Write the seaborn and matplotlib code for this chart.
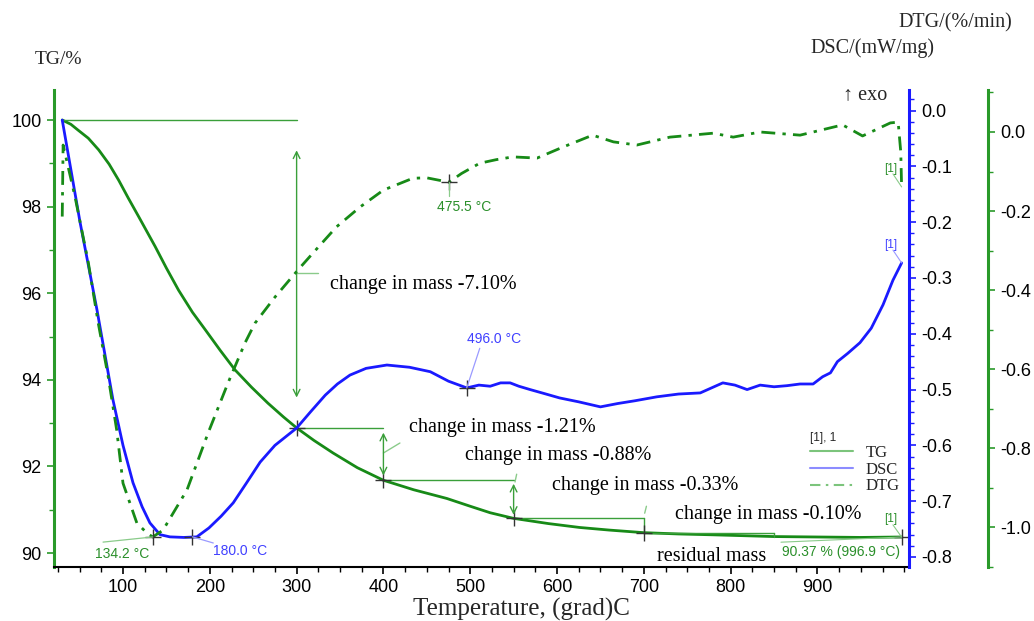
import matplotlib
matplotlib.use("Agg")
import matplotlib.pyplot as plt
from matplotlib.lines import Line2D
from matplotlib.ticker import MultipleLocator, FormatStrFormatter
import pandas as pd
import seaborn as sns

# ---------------- data ----------------
tg_temp = [30, 40, 48, 60, 72, 84, 95, 106, 118, 137, 150, 164, 180, 195, 212, 229, 248, 267, 285,
           300, 320, 342, 370, 400, 435, 473, 500, 523, 550, 590, 626, 660, 700, 740, 780, 850, 900,
           950, 997]
tg_mass = [100.0, 99.9, 99.77, 99.58, 99.31, 98.98, 98.61, 98.2, 97.77, 97.08, 96.58, 96.07, 95.56,
           95.15, 94.68, 94.23, 93.83, 93.46, 93.14, 92.89, 92.6, 92.31, 91.97, 91.68, 91.46, 91.26,
           91.08, 90.93, 90.80, 90.68, 90.59, 90.53, 90.47, 90.44, 90.42, 90.38, 90.37, 90.36, 90.37]

dsc_temp = [30, 50.5, 70, 88.5, 100, 111.5, 122, 131, 142.6, 154, 170, 185, 199, 213, 227, 242, 258,
            275, 300, 316, 333, 347, 361.5, 380, 404, 430, 454, 475, 496, 510, 523, 535, 546, 556,
            569, 585, 603, 625, 650, 670, 690, 715, 740, 765, 778, 791, 805, 819, 834, 850, 865,
            880, 895, 906, 915, 923, 935, 949, 962, 975.6, 987, 997]
dsc_val = [-0.017, -0.20, -0.357, -0.519, -0.60, -0.667, -0.71, -0.739, -0.760, -0.764, -0.765,
           -0.764, -0.748, -0.727, -0.703, -0.668, -0.63, -0.60, -0.569, -0.54, -0.51, -0.49,
           -0.474, -0.462, -0.456, -0.46, -0.468, -0.485, -0.497, -0.492, -0.494, -0.488, -0.488,
           -0.494, -0.50, -0.507, -0.515, -0.522, -0.531, -0.525, -0.52, -0.513, -0.508, -0.506,
           -0.497, -0.488, -0.492, -0.50, -0.492, -0.495, -0.493, -0.49, -0.49, -0.477, -0.47,
           -0.45, -0.435, -0.416, -0.39, -0.348, -0.304, -0.273]

dtg_temp = [30, 31, 44.7, 60, 71.5, 83, 92.7, 100, 116, 127.6, 134.2, 146, 173.7, 198, 221, 240.5,
            252, 275, 301.6, 319, 346, 373, 400, 434, 450, 475.5, 490, 511, 530, 549, 577, 607,
            641, 665, 692, 730, 780, 803, 834, 880, 929, 952, 984, 993, 996, 997]
dtg_val = [-0.214, -0.033, -0.164, -0.33, -0.484, -0.62, -0.754, -0.889, -0.99, -1.015, -1.025,
           -1.008, -0.906, -0.762, -0.635, -0.534, -0.484, -0.418, -0.349, -0.306, -0.24, -0.19,
           -0.147, -0.117, -0.116, -0.127, -0.105, -0.079, -0.07, -0.063, -0.066, -0.038, -0.008,
           -0.025, -0.033, -0.013, -0.003, -0.013, 0.0, -0.008, 0.018, -0.01, 0.023, 0.025, -0.05,
           -0.139]

step_temp = [30, 300, 400, 550, 700, 850]
step_mass = [100.0, 92.89, 91.68, 90.80, 90.47, 90.37]
step_labels = ["change in mass -7.10%", "change in mass -1.21%", "change in mass -0.88%",
               "change in mass -0.33%", "change in mass -0.10%"]

dtg_peak_temp = [134.2, 475.5]
dtg_peak_val = [-1.025, -0.127]
dtg_peak_labels = ["134.2 °C", "475.5 °C"]
dsc_peak_temp = [180.0, 496.0]
dsc_peak_val = [-0.764, -0.497]
dsc_peak_labels = ["180.0 °C", "496.0 °C"]
residual_temp = 996.9
residual_mass = 90.37
residual_label = "90.37 % (996.9 °C)"

x_ticks = [100, 200, 300, 400, 500, 600, 700, 800, 900]
tg_ticks = [90, 92, 94, 96, 98, 100]
dsc_ticks = [-0.8, -0.7, -0.6, -0.5, -0.4, -0.3, -0.2, -0.1, 0.0]
dtg_ticks = [-1.0, -0.8, -0.6, -0.4, -0.2, 0.0]

# ---------------- style ----------------
sns.set_theme(style="white")
plt.rcParams["font.family"] = ["Liberation Sans", "DejaVu Sans"]
plt.rcParams["axes.unicode_minus"] = False
SERIF = ["Liberation Serif", "DejaVu Serif"]

TG_C = "#178a17"
SPINE_G = "#2a9a2a"
BLUE = "#1a1aff"
ANN_G = "#3a9f3a"
TXT_G = "#2a8f2a"
TXT_B = "#4040ff"

fig = plt.figure(figsize=(10.34, 6.21), dpi=100)
ax = fig.add_axes([54 / 1034, 1 - 567 / 621, 855 / 1034, 477 / 621])
ax2 = ax.twinx()
ax3 = ax.twinx()

df_tg = pd.DataFrame({"Temperature": tg_temp, "TG": tg_mass})
df_dsc = pd.DataFrame({"Temperature": dsc_temp, "DSC": dsc_val})
df_dtg = pd.DataFrame({"Temperature": dtg_temp, "DTG": dtg_val})

sns.lineplot(data=df_tg, x="Temperature", y="TG", ax=ax, color=TG_C, linewidth=2.0,
             estimator=None, sort=False)
sns.lineplot(data=df_dsc, x="Temperature", y="DSC", ax=ax2, color=BLUE, linewidth=2.0,
             estimator=None, sort=False)
sns.lineplot(data=df_dtg, x="Temperature", y="DTG", ax=ax3, color=TG_C, linewidth=2.0,
             estimator=None, sort=False)
ax3.lines[0].set_linestyle((0, (5, 2.6, 1.2, 2.6)))

for a in (ax, ax2, ax3):
    a.set_xlabel("")
    a.set_ylabel("")
    for s in a.spines.values():
        s.set_visible(False)
    a.grid(False)

ax.set_xlim(20.5, 1005.5)
ax.set_ylim(89.677, 100.693)
ax2.set_ylim(-0.818, 0.0369)
ax3.set_ylim(-1.101, 0.1063)

ax.spines["left"].set_visible(True)
ax.spines["left"].set_color(SPINE_G)
ax.spines["left"].set_linewidth(2.2)
ax.spines["bottom"].set_visible(True)
ax.spines["bottom"].set_color("black")
ax.spines["bottom"].set_linewidth(1.5)
ax2.spines["right"].set_visible(True)
ax2.spines["right"].set_color(BLUE)
ax2.spines["right"].set_linewidth(2.2)
ax3.spines["right"].set_visible(True)
ax3.spines["right"].set_color(SPINE_G)
ax3.spines["right"].set_linewidth(2.2)
ax3.spines["right"].set_position(("outward", 79 * 0.72))

ax.set_xticks(x_ticks)
ax.xaxis.set_minor_locator(MultipleLocator(25))
ax.set_yticks(tg_ticks)
ax.yaxis.set_minor_locator(MultipleLocator(1))
ax2.set_yticks(dsc_ticks)
ax2.yaxis.set_minor_locator(MultipleLocator(0.02))
ax2.yaxis.set_major_formatter(FormatStrFormatter("%.1f"))
ax3.set_yticks(dtg_ticks)
ax3.yaxis.set_minor_locator(MultipleLocator(0.1))
ax3.yaxis.set_major_formatter(FormatStrFormatter("%.1f"))

ax.tick_params(axis="x", which="both", bottom=True, top=False, direction="out", colors="black",
               labelsize=13, pad=3.5)
ax.tick_params(axis="x", which="major", length=5, width=1.2)
ax.tick_params(axis="x", which="minor", length=3.5, width=1.0)
ax.tick_params(axis="y", which="both", left=True, right=False, direction="out", colors=SPINE_G,
               labelcolor="black", labelsize=13, pad=4)
ax.tick_params(axis="y", which="major", length=5, width=1.2)
ax.tick_params(axis="y", which="minor", length=3.5, width=1.0)
ax2.tick_params(axis="y", which="both", right=True, left=False, direction="out", colors=BLUE,
                labelcolor="black", labelsize=13, pad=4)
ax2.tick_params(axis="y", which="major", length=5, width=1.2)
ax2.tick_params(axis="y", which="minor", length=3.5, width=1.0)
ax3.tick_params(axis="y", which="both", right=True, left=False, direction="out", colors=SPINE_G,
                labelcolor="black", labelsize=13, pad=4)
ax3.tick_params(axis="y", which="major", length=5, width=1.2)
ax3.tick_params(axis="y", which="minor", length=3.5, width=1.0)

# ---------------- mass-change construction ----------------
for i in range(len(step_labels)):
    ax.plot([step_temp[i], step_temp[i + 1]], [step_mass[i], step_mass[i]], color=ANN_G, lw=1.0)
arrow_inset = [0.7, 0.11, 0.08]
for i in range(3):
    ax.annotate("", xy=(step_temp[i + 1], step_mass[i] - arrow_inset[i]),
                xytext=(step_temp[i + 1], step_mass[i + 1] + arrow_inset[i]),
                arrowprops=dict(arrowstyle="<->", color=ANN_G, lw=1.0, mutation_scale=12,
                                shrinkA=0, shrinkB=0))
for i in (3, 4):
    ax.plot([step_temp[i + 1]] * 2, [step_mass[i], step_mass[i + 1]], color=ANN_G, lw=1.0)
ax.plot(step_temp[1:5], step_mass[1:5], "+", color="#333333", ms=12, mew=1.0)

label_pos = [(338, 96.21), (430, 92.89), (494, 92.26), (594, 91.55), (736, 90.90)]
leaders = [((300, 96.47), (325, 96.47)), ((400, 92.31), (419, 92.54)),
           ((551.6, 91.64), (553.5, 91.82)), ((701, 90.92), (703, 91.08))]
for (p0, p1) in leaders:
    ax.plot([p0[0], p1[0]], [p0[1], p1[1]], color="#8acb8a", lw=1.0)
for lab, (lx, ly) in zip(step_labels, label_pos):
    ax.text(lx, ly, lab, family=SERIF, fontsize=14.5, ha="left", va="center", color="black")
ax.text(715, 89.91, "residual mass", family=SERIF, fontsize=14.5, ha="left", va="center",
        color="black")

# residual
ax.plot([residual_temp], [residual_mass], "+", color="#333333", ms=12, mew=1.0)
ax.plot([858, residual_temp], [90.25, residual_mass], color="#8acb8a", lw=0.8)
ax.text(995, 90.02, residual_label, fontsize=10, ha="right", va="center", color=TXT_G)
ax.plot([987, residual_temp], [90.65, residual_mass], color="#8acb8a", lw=0.8)
ax.text(991.7, 90.79, "[1]", fontsize=8.5, ha="right", va="center", color=TXT_G)

# ---------------- DTG annotations ----------------
ax3.plot(dtg_peak_temp, dtg_peak_val, "+", color="#333333", ms=12, mew=1.0)
ax3.plot([77, dtg_peak_temp[0]], [-1.038, dtg_peak_val[0]], color="#8acb8a", lw=0.9)
ax3.text(67.7, -1.068, dtg_peak_labels[0], fontsize=10, ha="left", va="center", color=TXT_G)
ax3.plot([dtg_peak_temp[1]] * 2, [dtg_peak_val[1], -0.163], color="#8acb8a", lw=0.9)
ax3.text(493, -0.19, dtg_peak_labels[1], fontsize=10, ha="center", va="center", color=TXT_G)
ax3.plot([987, 997], [-0.106, -0.139], color="#8acb8a", lw=0.8)
ax3.text(991.7, -0.094, "[1]", fontsize=8.5, ha="right", va="center", color=TXT_G)

# ---------------- DSC annotations ----------------
ax2.plot(dsc_peak_temp, dsc_peak_val, "+", color="#333333", ms=12, mew=1.0)
ax2.plot([dsc_peak_temp[0], 204], [dsc_peak_val[0], -0.775], color="#9a9aff", lw=0.9)
ax2.text(203.7, -0.789, dsc_peak_labels[0], fontsize=10, ha="left", va="center", color=TXT_B)
ax2.plot([dsc_peak_temp[1], 511], [dsc_peak_val[1], -0.426], color="#9a9aff", lw=0.9)
ax2.text(527.8, -0.409, dsc_peak_labels[1], fontsize=10, ha="center", va="center", color=TXT_B)
ax2.plot([987, 997], [-0.25, -0.273], color="#9a9aff", lw=0.8)
ax2.text(991.7, -0.241, "[1]", fontsize=8.5, ha="right", va="center", color=TXT_B)

# ---------------- legend ----------------
handles = [Line2D([], [], color="#7cc47c", lw=1.5),
           Line2D([], [], color="#8c8cff", lw=1.5),
           Line2D([], [], color="#7cc47c", lw=1.5, linestyle=(0, (5, 2.6, 1.2, 2.6)))]
leg = ax3.legend(handles, ["TG", "DSC", "DTG"], loc="upper left",
                 bbox_to_anchor=(810 / 1034, 1 - 432 / 621), bbox_transform=fig.transFigure,
                 frameon=False, prop={"family": SERIF, "size": 12}, title="[1], 1",
                 title_fontsize=8.5, handlelength=2.6, handletextpad=0.75, labelspacing=0.05,
                 borderpad=0, borderaxespad=0)
leg._legend_box.align = "left"

# ---------------- axis titles ----------------
fig.text(35 / 1034, 1 - 60 / 621, "TG/%", family=SERIF, fontsize=14, ha="left", va="center")
fig.text(810 / 1034, 1 - 48 / 621, "DSC/(mW/mg)", family=SERIF, fontsize=14.5, ha="left",
         va="center")
fig.text(898 / 1034, 1 - 23 / 621, "DTG/(%/min)", family=SERIF, fontsize=14.5, ha="left",
         va="center")
fig.text(843 / 1034, 1 - 95 / 621, "↑ exo", family=SERIF, fontsize=14.5, ha="left",
         va="center")
fig.text(521 / 1034, 1 - 609 / 621, "Temperature, (grad)C", family=SERIF, fontsize=18,
         ha="center", va="center")

fig.savefig("out.png", dpi=100)
